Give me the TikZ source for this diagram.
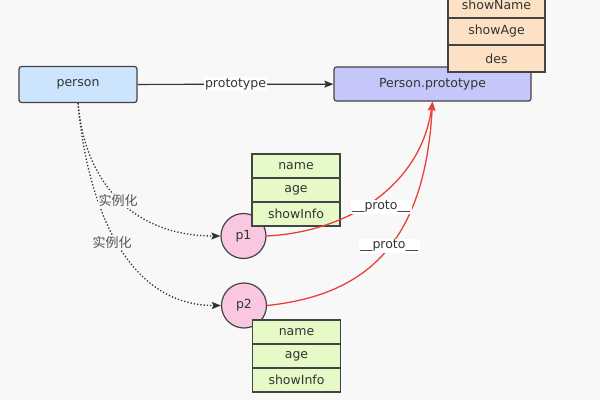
\documentclass[tikz,border=0pt]{standalone}
\usepackage{fontspec}
\setmainfont{DejaVu Sans}
\newfontfamily\cjk{Noto Sans CJK SC}
\usetikzlibrary{arrows,arrows.meta}
\definecolor{bg}{HTML}{F8F8F8}
\definecolor{edge}{HTML}{444444}
\definecolor{txt}{HTML}{333333}
\definecolor{classblue}{HTML}{CCE4FC}
\definecolor{protoblue}{HTML}{C5C7FA}
\definecolor{peach}{HTML}{FDE1C4}
\definecolor{lime}{HTML}{E6FAC8}
\definecolor{pinkobj}{HTML}{F9C8E0}
\definecolor{linkred}{HTML}{E8413A}
\tikzset{
	box/.style = {draw=edge, line width=1.2pt, rounded corners=2.5pt, minimum height=36pt, text=txt, font=\fontsize{12.5}{14}\selectfont},
	cls/.style = {box, fill=classblue, minimum width=118pt},
	pbox/.style = {box, fill=protoblue, minimum width=197pt, minimum height=34pt},
	cell/.style = {draw=edge, line width=1.2pt, inner sep=0pt, text=txt, font=\fontsize{12.5}{14}\selectfont},
	pcell/.style = {cell, fill=peach, minimum width=97pt, minimum height=27pt},
	icell/.style = {cell, fill=lime, minimum width=88pt, minimum height=24pt},
	obj/.style = {circle, draw=edge, line width=1.2pt, fill=pinkobj, minimum size=45pt, inner sep=0pt, text=txt, font=\fontsize{12.5}{14}\selectfont},
	lbl/.style = {fill=white, inner sep=1.5pt, text=txt, font=\fontsize{12.5}{14}\selectfont},
	cnlbl/.style = {fill=bg, inner sep=1pt, text=txt!85, font=\cjk\fontsize{13}{15}\selectfont},
	inst/.style = {->, draw=txt, line width=1.3pt, dash pattern=on 1.3pt off 2pt},
	link/.style = {->, draw=linkred, line width=1.3pt}
}

\begin{document}
\begin{tikzpicture}[x=1pt,y=1pt,>={Stealth[length=9pt,width=7pt,inset=1.5pt]}]
	\fill[bg] (0,0) rectangle (600,400);
	\useasboundingbox (0,0) rectangle (600,400);
	\node[cls] (person) at (78,315.5) {person};
	\node[pbox] (pproto) at (432.5,316) {Person.prototype};
	\node[pcell] (showname) at (496.5,395.5) {showName};
	\node[pcell] (showage) at (496.5,368.5) {showAge};
	\node[pcell] (des) at (496.5,341.5) {des};
	\node[obj] (p1) at (243.5,164) {p1};
	\node[obj] (p2) at (244,94.5) {p2};
	\node[icell] (p1name) at (296,234) {name};
	\node[icell] (p1age) at (296,210) {age};
	\node[icell] (p1info) at (296,186) {showInfo};
	\node[icell] (p2name) at (296.5,68) {name};
	\node[icell] (p2age) at (296.5,44) {age};
	\node[icell] (p2info) at (296.5,20) {showInfo};
	\draw[->, draw=txt, line width=1.2pt] (person) -- node[lbl] (protolabel) {prototype} (pproto);
	\draw[inst] (person.south) to[out=-85,in=180,looseness=1.1] (p1.west);
	\draw[inst] (person.south) to[out=-85,in=180] (p2.west);
	\draw[link] (p1.east) to[out=3,in=-98] (pproto.south);
	\draw[link] (p2.east) to[out=6,in=-93,out looseness=0.9,in looseness=1.45] (pproto.south);
	\node[cnlbl] (inst1) at (118,199) {实例化};
	\node[cnlbl] (inst2) at (112,157) {实例化};
	\node[lbl] (proto1) at (381,193) {\_\_proto\_\_};
	\node[lbl] (proto2) at (389,154) {\_\_proto\_\_};
\end{tikzpicture}
\end{document}
